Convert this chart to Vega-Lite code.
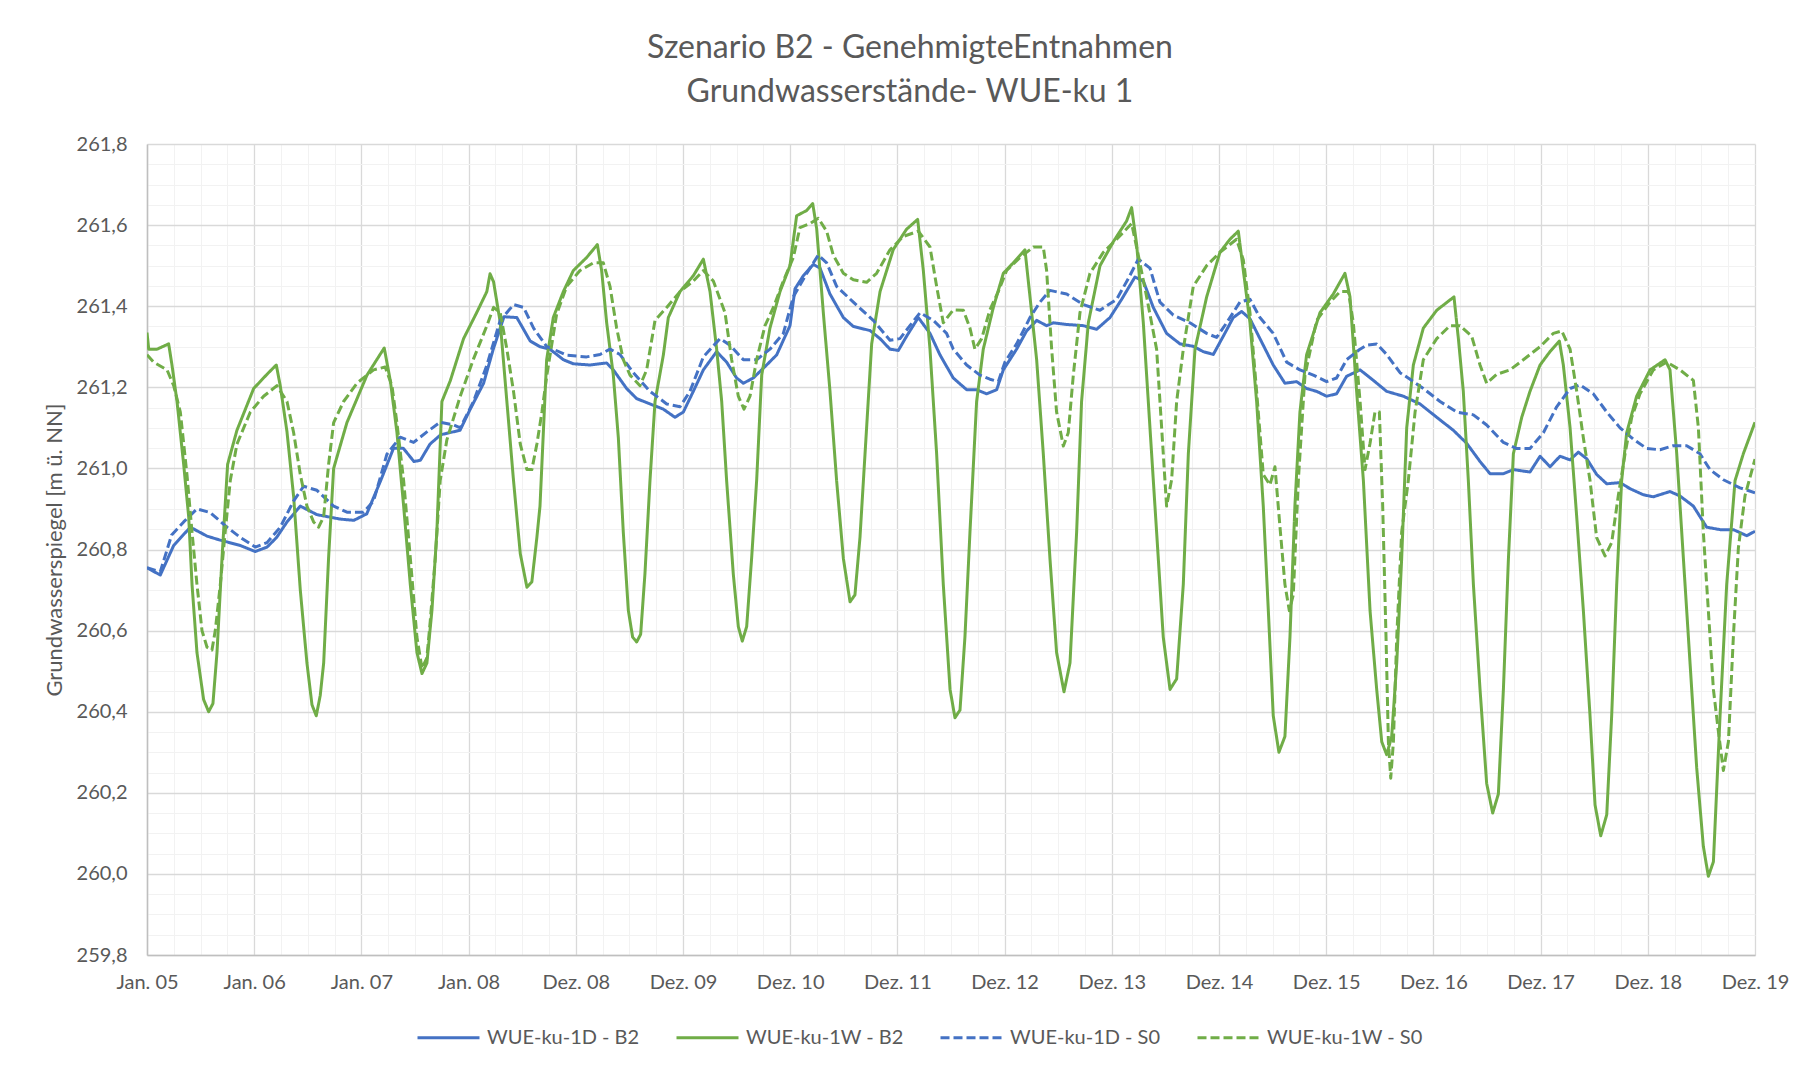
{
"$schema": "https://vega.github.io/schema/vega-lite/v6.json",
"width": 1608, "height": 811,
"autosize": {"type": "none"},
"padding": {"left": 147, "top": 144, "right": 49, "bottom": 114},
"background": "white",
"title": {"text": ["Szenario B2 - GenehmigteEntnahmen", "Grundwasserstände- WUE-ku 1"], "anchor": "middle", "frame": "group", "dx": -41, "offset": 25, "font": "Lato", "fontSize": 32, "fontWeight": "normal", "color": "#595959", "lineHeight": 44},
"data": {"values": [
{"r":"WUE-ku-1D - B2","t":0,"w":260.755},{"r":"WUE-ku-1D - B2","t":0.124,"w":260.737},{"r":"WUE-ku-1D - B2","t":0.249,"w":260.81},{"r":"WUE-ku-1D - B2","t":0.404,"w":260.855},{"r":"WUE-ku-1D - B2","t":0.56,"w":260.833},{"r":"WUE-ku-1D - B2","t":0.684,"w":260.823},{"r":"WUE-ku-1D - B2","t":0.87,"w":260.81},{"r":"WUE-ku-1D - B2","t":1.01,"w":260.795},{"r":"WUE-ku-1D - B2","t":1.12,"w":260.806},{"r":"WUE-ku-1D - B2","t":1.21,"w":260.83},{"r":"WUE-ku-1D - B2","t":1.306,"w":260.868},{"r":"WUE-ku-1D - B2","t":1.43,"w":260.907},{"r":"WUE-ku-1D - B2","t":1.585,"w":260.886},{"r":"WUE-ku-1D - B2","t":1.8,"w":260.875},{"r":"WUE-ku-1D - B2","t":1.93,"w":260.872},{"r":"WUE-ku-1D - B2","t":2.05,"w":260.888},{"r":"WUE-ku-1D - B2","t":2.18,"w":260.97},{"r":"WUE-ku-1D - B2","t":2.3,"w":261.05},{"r":"WUE-ku-1D - B2","t":2.39,"w":261.05},{"r":"WUE-ku-1D - B2","t":2.49,"w":261.017},{"r":"WUE-ku-1D - B2","t":2.55,"w":261.02},{"r":"WUE-ku-1D - B2","t":2.64,"w":261.06},{"r":"WUE-ku-1D - B2","t":2.74,"w":261.083},{"r":"WUE-ku-1D - B2","t":2.92,"w":261.094},{"r":"WUE-ku-1D - B2","t":3.015,"w":261.146},{"r":"WUE-ku-1D - B2","t":3.14,"w":261.21},{"r":"WUE-ku-1D - B2","t":3.23,"w":261.294},{"r":"WUE-ku-1D - B2","t":3.33,"w":261.374},{"r":"WUE-ku-1D - B2","t":3.45,"w":261.372},{"r":"WUE-ku-1D - B2","t":3.575,"w":261.314},{"r":"WUE-ku-1D - B2","t":3.666,"w":261.3},{"r":"WUE-ku-1D - B2","t":3.759,"w":261.294},{"r":"WUE-ku-1D - B2","t":3.884,"w":261.268},{"r":"WUE-ku-1D - B2","t":3.977,"w":261.258},{"r":"WUE-ku-1D - B2","t":4.132,"w":261.255},{"r":"WUE-ku-1D - B2","t":4.288,"w":261.26},{"r":"WUE-ku-1D - B2","t":4.35,"w":261.243},{"r":"WUE-ku-1D - B2","t":4.474,"w":261.197},{"r":"WUE-ku-1D - B2","t":4.568,"w":261.172},{"r":"WUE-ku-1D - B2","t":4.692,"w":261.159},{"r":"WUE-ku-1D - B2","t":4.817,"w":261.146},{"r":"WUE-ku-1D - B2","t":4.925,"w":261.126},{"r":"WUE-ku-1D - B2","t":5.003,"w":261.139},{"r":"WUE-ku-1D - B2","t":5.096,"w":261.19},{"r":"WUE-ku-1D - B2","t":5.19,"w":261.243},{"r":"WUE-ku-1D - B2","t":5.314,"w":261.288},{"r":"WUE-ku-1D - B2","t":5.407,"w":261.262},{"r":"WUE-ku-1D - B2","t":5.5,"w":261.223},{"r":"WUE-ku-1D - B2","t":5.563,"w":261.21},{"r":"WUE-ku-1D - B2","t":5.656,"w":261.223},{"r":"WUE-ku-1D - B2","t":5.78,"w":261.255},{"r":"WUE-ku-1D - B2","t":5.874,"w":261.28},{"r":"WUE-ku-1D - B2","t":5.998,"w":261.352},{"r":"WUE-ku-1D - B2","t":6.045,"w":261.443},{"r":"WUE-ku-1D - B2","t":6.122,"w":261.475},{"r":"WUE-ku-1D - B2","t":6.216,"w":261.503},{"r":"WUE-ku-1D - B2","t":6.278,"w":261.494},{"r":"WUE-ku-1D - B2","t":6.371,"w":261.43},{"r":"WUE-ku-1D - B2","t":6.496,"w":261.372},{"r":"WUE-ku-1D - B2","t":6.589,"w":261.35},{"r":"WUE-ku-1D - B2","t":6.744,"w":261.34},{"r":"WUE-ku-1D - B2","t":6.838,"w":261.32},{"r":"WUE-ku-1D - B2","t":6.931,"w":261.294},{"r":"WUE-ku-1D - B2","t":7.009,"w":261.291},{"r":"WUE-ku-1D - B2","t":7.086,"w":261.326},{"r":"WUE-ku-1D - B2","t":7.195,"w":261.372},{"r":"WUE-ku-1D - B2","t":7.304,"w":261.333},{"r":"WUE-ku-1D - B2","t":7.397,"w":261.28},{"r":"WUE-ku-1D - B2","t":7.521,"w":261.223},{"r":"WUE-ku-1D - B2","t":7.646,"w":261.194},{"r":"WUE-ku-1D - B2","t":7.739,"w":261.194},{"r":"WUE-ku-1D - B2","t":7.832,"w":261.184},{"r":"WUE-ku-1D - B2","t":7.926,"w":261.194},{"r":"WUE-ku-1D - B2","t":7.988,"w":261.243},{"r":"WUE-ku-1D - B2","t":8.112,"w":261.294},{"r":"WUE-ku-1D - B2","t":8.205,"w":261.339},{"r":"WUE-ku-1D - B2","t":8.299,"w":261.365},{"r":"WUE-ku-1D - B2","t":8.392,"w":261.352},{"r":"WUE-ku-1D - B2","t":8.454,"w":261.359},{"r":"WUE-ku-1D - B2","t":8.579,"w":261.355},{"r":"WUE-ku-1D - B2","t":8.734,"w":261.352},{"r":"WUE-ku-1D - B2","t":8.858,"w":261.343},{"r":"WUE-ku-1D - B2","t":8.983,"w":261.372},{"r":"WUE-ku-1D - B2","t":9.092,"w":261.417},{"r":"WUE-ku-1D - B2","t":9.216,"w":261.472},{"r":"WUE-ku-1D - B2","t":9.294,"w":261.462},{"r":"WUE-ku-1D - B2","t":9.387,"w":261.397},{"r":"WUE-ku-1D - B2","t":9.511,"w":261.333},{"r":"WUE-ku-1D - B2","t":9.636,"w":261.307},{"r":"WUE-ku-1D - B2","t":9.76,"w":261.301},{"r":"WUE-ku-1D - B2","t":9.853,"w":261.288},{"r":"WUE-ku-1D - B2","t":9.947,"w":261.281},{"r":"WUE-ku-1D - B2","t":10.04,"w":261.326},{"r":"WUE-ku-1D - B2","t":10.133,"w":261.372},{"r":"WUE-ku-1D - B2","t":10.211,"w":261.387},{"r":"WUE-ku-1D - B2","t":10.289,"w":261.369},{"r":"WUE-ku-1D - B2","t":10.382,"w":261.32},{"r":"WUE-ku-1D - B2","t":10.506,"w":261.255},{"r":"WUE-ku-1D - B2","t":10.615,"w":261.21},{"r":"WUE-ku-1D - B2","t":10.724,"w":261.214},{"r":"WUE-ku-1D - B2","t":10.817,"w":261.197},{"r":"WUE-ku-1D - B2","t":10.911,"w":261.19},{"r":"WUE-ku-1D - B2","t":11.004,"w":261.178},{"r":"WUE-ku-1D - B2","t":11.097,"w":261.184},{"r":"WUE-ku-1D - B2","t":11.19,"w":261.227},{"r":"WUE-ku-1D - B2","t":11.316,"w":261.243},{"r":"WUE-ku-1D - B2","t":11.44,"w":261.217},{"r":"WUE-ku-1D - B2","t":11.564,"w":261.19},{"r":"WUE-ku-1D - B2","t":11.72,"w":261.178},{"r":"WUE-ku-1D - B2","t":11.875,"w":261.159},{"r":"WUE-ku-1D - B2","t":12.031,"w":261.126},{"r":"WUE-ku-1D - B2","t":12.186,"w":261.094},{"r":"WUE-ku-1D - B2","t":12.31,"w":261.062},{"r":"WUE-ku-1D - B2","t":12.435,"w":261.017},{"r":"WUE-ku-1D - B2","t":12.528,"w":260.987},{"r":"WUE-ku-1D - B2","t":12.653,"w":260.987},{"r":"WUE-ku-1D - B2","t":12.746,"w":260.997},{"r":"WUE-ku-1D - B2","t":12.901,"w":260.991},{"r":"WUE-ku-1D - B2","t":12.995,"w":261.03},{"r":"WUE-ku-1D - B2","t":13.088,"w":261.004},{"r":"WUE-ku-1D - B2","t":13.181,"w":261.03},{"r":"WUE-ku-1D - B2","t":13.275,"w":261.021},{"r":"WUE-ku-1D - B2","t":13.352,"w":261.04},{"r":"WUE-ku-1D - B2","t":13.43,"w":261.024},{"r":"WUE-ku-1D - B2","t":13.523,"w":260.985},{"r":"WUE-ku-1D - B2","t":13.617,"w":260.962},{"r":"WUE-ku-1D - B2","t":13.741,"w":260.965},{"r":"WUE-ku-1D - B2","t":13.834,"w":260.95},{"r":"WUE-ku-1D - B2","t":13.958,"w":260.935},{"r":"WUE-ku-1D - B2","t":14.052,"w":260.93},{"r":"WUE-ku-1D - B2","t":14.207,"w":260.943},{"r":"WUE-ku-1D - B2","t":14.3,"w":260.932},{"r":"WUE-ku-1D - B2","t":14.425,"w":260.907},{"r":"WUE-ku-1D - B2","t":14.549,"w":260.855},{"r":"WUE-ku-1D - B2","t":14.674,"w":260.849},{"r":"WUE-ku-1D - B2","t":14.798,"w":260.849},{"r":"WUE-ku-1D - B2","t":14.923,"w":260.834},{"r":"WUE-ku-1D - B2","t":15,"w":260.845},
{"r":"WUE-ku-1W - B2","t":0,"w":261.335},{"r":"WUE-ku-1W - B2","t":0.016,"w":261.294},{"r":"WUE-ku-1W - B2","t":0.093,"w":261.294},{"r":"WUE-ku-1W - B2","t":0.202,"w":261.307},{"r":"WUE-ku-1W - B2","t":0.233,"w":261.255},{"r":"WUE-ku-1W - B2","t":0.28,"w":261.165},{"r":"WUE-ku-1W - B2","t":0.342,"w":261.01},{"r":"WUE-ku-1W - B2","t":0.389,"w":260.88},{"r":"WUE-ku-1W - B2","t":0.42,"w":260.714},{"r":"WUE-ku-1W - B2","t":0.466,"w":260.546},{"r":"WUE-ku-1W - B2","t":0.528,"w":260.43},{"r":"WUE-ku-1W - B2","t":0.575,"w":260.4},{"r":"WUE-ku-1W - B2","t":0.615,"w":260.42},{"r":"WUE-ku-1W - B2","t":0.653,"w":260.546},{"r":"WUE-ku-1W - B2","t":0.7,"w":260.78},{"r":"WUE-ku-1W - B2","t":0.752,"w":261.01},{"r":"WUE-ku-1W - B2","t":0.839,"w":261.094},{"r":"WUE-ku-1W - B2","t":0.995,"w":261.197},{"r":"WUE-ku-1W - B2","t":1.119,"w":261.232},{"r":"WUE-ku-1W - B2","t":1.206,"w":261.255},{"r":"WUE-ku-1W - B2","t":1.243,"w":261.204},{"r":"WUE-ku-1W - B2","t":1.306,"w":261.09},{"r":"WUE-ku-1W - B2","t":1.368,"w":260.93},{"r":"WUE-ku-1W - B2","t":1.43,"w":260.7},{"r":"WUE-ku-1W - B2","t":1.492,"w":260.52},{"r":"WUE-ku-1W - B2","t":1.539,"w":260.417},{"r":"WUE-ku-1W - B2","t":1.579,"w":260.39},{"r":"WUE-ku-1W - B2","t":1.616,"w":260.44},{"r":"WUE-ku-1W - B2","t":1.648,"w":260.52},{"r":"WUE-ku-1W - B2","t":1.694,"w":260.78},{"r":"WUE-ku-1W - B2","t":1.741,"w":261.0},{"r":"WUE-ku-1W - B2","t":1.865,"w":261.113},{"r":"WUE-ku-1W - B2","t":2.052,"w":261.23},{"r":"WUE-ku-1W - B2","t":2.213,"w":261.297},{"r":"WUE-ku-1W - B2","t":2.27,"w":261.216},{"r":"WUE-ku-1W - B2","t":2.331,"w":261.09},{"r":"WUE-ku-1W - B2","t":2.394,"w":260.907},{"r":"WUE-ku-1W - B2","t":2.456,"w":260.714},{"r":"WUE-ku-1W - B2","t":2.518,"w":260.546},{"r":"WUE-ku-1W - B2","t":2.565,"w":260.494},{"r":"WUE-ku-1W - B2","t":2.611,"w":260.52},{"r":"WUE-ku-1W - B2","t":2.658,"w":260.65},{"r":"WUE-ku-1W - B2","t":2.704,"w":260.845},{"r":"WUE-ku-1W - B2","t":2.751,"w":261.165},{"r":"WUE-ku-1W - B2","t":2.829,"w":261.216},{"r":"WUE-ku-1W - B2","t":2.953,"w":261.32},{"r":"WUE-ku-1W - B2","t":3.077,"w":261.385},{"r":"WUE-ku-1W - B2","t":3.17,"w":261.436},{"r":"WUE-ku-1W - B2","t":3.2,"w":261.48},{"r":"WUE-ku-1W - B2","t":3.233,"w":261.46},{"r":"WUE-ku-1W - B2","t":3.295,"w":261.36},{"r":"WUE-ku-1W - B2","t":3.357,"w":261.165},{"r":"WUE-ku-1W - B2","t":3.419,"w":260.97},{"r":"WUE-ku-1W - B2","t":3.482,"w":260.79},{"r":"WUE-ku-1W - B2","t":3.544,"w":260.707},{"r":"WUE-ku-1W - B2","t":3.59,"w":260.72},{"r":"WUE-ku-1W - B2","t":3.637,"w":260.83},{"r":"WUE-ku-1W - B2","t":3.666,"w":260.907},{"r":"WUE-ku-1W - B2","t":3.728,"w":261.268},{"r":"WUE-ku-1W - B2","t":3.79,"w":261.372},{"r":"WUE-ku-1W - B2","t":3.884,"w":261.436},{"r":"WUE-ku-1W - B2","t":3.977,"w":261.488},{"r":"WUE-ku-1W - B2","t":4.101,"w":261.52},{"r":"WUE-ku-1W - B2","t":4.201,"w":261.552},{"r":"WUE-ku-1W - B2","t":4.241,"w":261.488},{"r":"WUE-ku-1W - B2","t":4.288,"w":261.359},{"r":"WUE-ku-1W - B2","t":4.35,"w":261.23},{"r":"WUE-ku-1W - B2","t":4.397,"w":261.075},{"r":"WUE-ku-1W - B2","t":4.443,"w":260.843},{"r":"WUE-ku-1W - B2","t":4.49,"w":260.65},{"r":"WUE-ku-1W - B2","t":4.53,"w":260.584},{"r":"WUE-ku-1W - B2","t":4.568,"w":260.572},{"r":"WUE-ku-1W - B2","t":4.605,"w":260.591},{"r":"WUE-ku-1W - B2","t":4.645,"w":260.74},{"r":"WUE-ku-1W - B2","t":4.692,"w":260.97},{"r":"WUE-ku-1W - B2","t":4.739,"w":261.165},{"r":"WUE-ku-1W - B2","t":4.817,"w":261.28},{"r":"WUE-ku-1W - B2","t":4.863,"w":261.372},{"r":"WUE-ku-1W - B2","t":4.972,"w":261.436},{"r":"WUE-ku-1W - B2","t":5.096,"w":261.475},{"r":"WUE-ku-1W - B2","t":5.19,"w":261.516},{"r":"WUE-ku-1W - B2","t":5.252,"w":261.436},{"r":"WUE-ku-1W - B2","t":5.314,"w":261.294},{"r":"WUE-ku-1W - B2","t":5.361,"w":261.165},{"r":"WUE-ku-1W - B2","t":5.407,"w":260.97},{"r":"WUE-ku-1W - B2","t":5.469,"w":260.74},{"r":"WUE-ku-1W - B2","t":5.516,"w":260.61},{"r":"WUE-ku-1W - B2","t":5.553,"w":260.574},{"r":"WUE-ku-1W - B2","t":5.594,"w":260.61},{"r":"WUE-ku-1W - B2","t":5.64,"w":260.778},{"r":"WUE-ku-1W - B2","t":5.687,"w":260.97},{"r":"WUE-ku-1W - B2","t":5.734,"w":261.23},{"r":"WUE-ku-1W - B2","t":5.811,"w":261.346},{"r":"WUE-ku-1W - B2","t":5.905,"w":261.436},{"r":"WUE-ku-1W - B2","t":5.998,"w":261.5},{"r":"WUE-ku-1W - B2","t":6.06,"w":261.623},{"r":"WUE-ku-1W - B2","t":6.154,"w":261.636},{"r":"WUE-ku-1W - B2","t":6.21,"w":261.653},{"r":"WUE-ku-1W - B2","t":6.247,"w":261.591},{"r":"WUE-ku-1W - B2","t":6.309,"w":261.384},{"r":"WUE-ku-1W - B2","t":6.371,"w":261.191},{"r":"WUE-ku-1W - B2","t":6.433,"w":260.97},{"r":"WUE-ku-1W - B2","t":6.496,"w":260.778},{"r":"WUE-ku-1W - B2","t":6.558,"w":260.671},{"r":"WUE-ku-1W - B2","t":6.604,"w":260.688},{"r":"WUE-ku-1W - B2","t":6.651,"w":260.83},{"r":"WUE-ku-1W - B2","t":6.698,"w":261.036},{"r":"WUE-ku-1W - B2","t":6.76,"w":261.307},{"r":"WUE-ku-1W - B2","t":6.838,"w":261.436},{"r":"WUE-ku-1W - B2","t":6.962,"w":261.54},{"r":"WUE-ku-1W - B2","t":7.086,"w":261.59},{"r":"WUE-ku-1W - B2","t":7.189,"w":261.614},{"r":"WUE-ku-1W - B2","t":7.242,"w":261.488},{"r":"WUE-ku-1W - B2","t":7.304,"w":261.294},{"r":"WUE-ku-1W - B2","t":7.366,"w":261.036},{"r":"WUE-ku-1W - B2","t":7.428,"w":260.714},{"r":"WUE-ku-1W - B2","t":7.491,"w":260.455},{"r":"WUE-ku-1W - B2","t":7.537,"w":260.385},{"r":"WUE-ku-1W - B2","t":7.584,"w":260.404},{"r":"WUE-ku-1W - B2","t":7.63,"w":260.584},{"r":"WUE-ku-1W - B2","t":7.677,"w":260.843},{"r":"WUE-ku-1W - B2","t":7.739,"w":261.165},{"r":"WUE-ku-1W - B2","t":7.801,"w":261.294},{"r":"WUE-ku-1W - B2","t":7.895,"w":261.397},{"r":"WUE-ku-1W - B2","t":7.988,"w":261.481},{"r":"WUE-ku-1W - B2","t":8.081,"w":261.507},{"r":"WUE-ku-1W - B2","t":8.19,"w":261.539},{"r":"WUE-ku-1W - B2","t":8.237,"w":261.423},{"r":"WUE-ku-1W - B2","t":8.299,"w":261.268},{"r":"WUE-ku-1W - B2","t":8.361,"w":261.036},{"r":"WUE-ku-1W - B2","t":8.423,"w":260.778},{"r":"WUE-ku-1W - B2","t":8.485,"w":260.546},{"r":"WUE-ku-1W - B2","t":8.554,"w":260.449},{"r":"WUE-ku-1W - B2","t":8.61,"w":260.52},{"r":"WUE-ku-1W - B2","t":8.672,"w":260.843},{"r":"WUE-ku-1W - B2","t":8.718,"w":261.165},{"r":"WUE-ku-1W - B2","t":8.781,"w":261.359},{"r":"WUE-ku-1W - B2","t":8.89,"w":261.5},{"r":"WUE-ku-1W - B2","t":9.014,"w":261.559},{"r":"WUE-ku-1W - B2","t":9.138,"w":261.61},{"r":"WUE-ku-1W - B2","t":9.185,"w":261.643},{"r":"WUE-ku-1W - B2","t":9.232,"w":261.552},{"r":"WUE-ku-1W - B2","t":9.294,"w":261.359},{"r":"WUE-ku-1W - B2","t":9.356,"w":261.1},{"r":"WUE-ku-1W - B2","t":9.418,"w":260.843},{"r":"WUE-ku-1W - B2","t":9.48,"w":260.584},{"r":"WUE-ku-1W - B2","t":9.543,"w":260.455},{"r":"WUE-ku-1W - B2","t":9.605,"w":260.481},{"r":"WUE-ku-1W - B2","t":9.667,"w":260.714},{"r":"WUE-ku-1W - B2","t":9.714,"w":261.036},{"r":"WUE-ku-1W - B2","t":9.776,"w":261.294},{"r":"WUE-ku-1W - B2","t":9.885,"w":261.423},{"r":"WUE-ku-1W - B2","t":10.009,"w":261.533},{"r":"WUE-ku-1W - B2","t":10.102,"w":261.565},{"r":"WUE-ku-1W - B2","t":10.18,"w":261.585},{"r":"WUE-ku-1W - B2","t":10.227,"w":261.488},{"r":"WUE-ku-1W - B2","t":10.289,"w":261.359},{"r":"WUE-ku-1W - B2","t":10.351,"w":261.165},{"r":"WUE-ku-1W - B2","t":10.413,"w":260.907},{"r":"WUE-ku-1W - B2","t":10.46,"w":260.65},{"r":"WUE-ku-1W - B2","t":10.506,"w":260.39},{"r":"WUE-ku-1W - B2","t":10.559,"w":260.3},{"r":"WUE-ku-1W - B2","t":10.615,"w":260.339},{"r":"WUE-ku-1W - B2","t":10.662,"w":260.584},{"r":"WUE-ku-1W - B2","t":10.708,"w":260.907},{"r":"WUE-ku-1W - B2","t":10.755,"w":261.139},{"r":"WUE-ku-1W - B2","t":10.817,"w":261.28},{"r":"WUE-ku-1W - B2","t":10.942,"w":261.384},{"r":"WUE-ku-1W - B2","t":11.066,"w":261.43},{"r":"WUE-ku-1W - B2","t":11.175,"w":261.481},{"r":"WUE-ku-1W - B2","t":11.222,"w":261.423},{"r":"WUE-ku-1W - B2","t":11.284,"w":261.19},{"r":"WUE-ku-1W - B2","t":11.347,"w":260.97},{"r":"WUE-ku-1W - B2","t":11.409,"w":260.649},{"r":"WUE-ku-1W - B2","t":11.471,"w":260.455},{"r":"WUE-ku-1W - B2","t":11.518,"w":260.326},{"r":"WUE-ku-1W - B2","t":11.564,"w":260.294},{"r":"WUE-ku-1W - B2","t":11.611,"w":260.339},{"r":"WUE-ku-1W - B2","t":11.658,"w":260.52},{"r":"WUE-ku-1W - B2","t":11.704,"w":260.778},{"r":"WUE-ku-1W - B2","t":11.751,"w":261.1},{"r":"WUE-ku-1W - B2","t":11.813,"w":261.255},{"r":"WUE-ku-1W - B2","t":11.906,"w":261.346},{"r":"WUE-ku-1W - B2","t":12.031,"w":261.39},{"r":"WUE-ku-1W - B2","t":12.192,"w":261.423},{"r":"WUE-ku-1W - B2","t":12.233,"w":261.32},{"r":"WUE-ku-1W - B2","t":12.279,"w":261.19},{"r":"WUE-ku-1W - B2","t":12.326,"w":260.97},{"r":"WUE-ku-1W - B2","t":12.373,"w":260.714},{"r":"WUE-ku-1W - B2","t":12.435,"w":260.455},{"r":"WUE-ku-1W - B2","t":12.497,"w":260.223},{"r":"WUE-ku-1W - B2","t":12.553,"w":260.15},{"r":"WUE-ku-1W - B2","t":12.606,"w":260.197},{"r":"WUE-ku-1W - B2","t":12.653,"w":260.455},{"r":"WUE-ku-1W - B2","t":12.7,"w":260.778},{"r":"WUE-ku-1W - B2","t":12.746,"w":261.036},{"r":"WUE-ku-1W - B2","t":12.824,"w":261.126},{"r":"WUE-ku-1W - B2","t":12.901,"w":261.19},{"r":"WUE-ku-1W - B2","t":12.995,"w":261.255},{"r":"WUE-ku-1W - B2","t":13.088,"w":261.288},{"r":"WUE-ku-1W - B2","t":13.175,"w":261.314},{"r":"WUE-ku-1W - B2","t":13.212,"w":261.255},{"r":"WUE-ku-1W - B2","t":13.275,"w":261.1},{"r":"WUE-ku-1W - B2","t":13.337,"w":260.88},{"r":"WUE-ku-1W - B2","t":13.399,"w":260.649},{"r":"WUE-ku-1W - B2","t":13.461,"w":260.39},{"r":"WUE-ku-1W - B2","t":13.508,"w":260.17},{"r":"WUE-ku-1W - B2","t":13.561,"w":260.094},{"r":"WUE-ku-1W - B2","t":13.617,"w":260.146},{"r":"WUE-ku-1W - B2","t":13.663,"w":260.39},{"r":"WUE-ku-1W - B2","t":13.71,"w":260.714},{"r":"WUE-ku-1W - B2","t":13.756,"w":260.97},{"r":"WUE-ku-1W - B2","t":13.803,"w":261.088},{"r":"WUE-ku-1W - B2","t":13.896,"w":261.178},{"r":"WUE-ku-1W - B2","t":14.021,"w":261.243},{"r":"WUE-ku-1W - B2","t":14.161,"w":261.268},{"r":"WUE-ku-1W - B2","t":14.207,"w":261.243},{"r":"WUE-ku-1W - B2","t":14.27,"w":261.036},{"r":"WUE-ku-1W - B2","t":14.332,"w":260.778},{"r":"WUE-ku-1W - B2","t":14.394,"w":260.52},{"r":"WUE-ku-1W - B2","t":14.456,"w":260.262},{"r":"WUE-ku-1W - B2","t":14.518,"w":260.068},{"r":"WUE-ku-1W - B2","t":14.565,"w":259.994},{"r":"WUE-ku-1W - B2","t":14.612,"w":260.03},{"r":"WUE-ku-1W - B2","t":14.674,"w":260.39},{"r":"WUE-ku-1W - B2","t":14.736,"w":260.714},{"r":"WUE-ku-1W - B2","t":14.814,"w":260.97},{"r":"WUE-ku-1W - B2","t":14.891,"w":261.036},{"r":"WUE-ku-1W - B2","t":15,"w":261.114},
{"r":"WUE-ku-1D - S0","t":0,"w":260.755},{"r":"WUE-ku-1D - S0","t":0.124,"w":260.745},{"r":"WUE-ku-1D - S0","t":0.23,"w":260.836},{"r":"WUE-ku-1D - S0","t":0.342,"w":260.868},{"r":"WUE-ku-1D - S0","t":0.466,"w":260.9},{"r":"WUE-ku-1D - S0","t":0.59,"w":260.891},{"r":"WUE-ku-1D - S0","t":0.746,"w":260.855},{"r":"WUE-ku-1D - S0","t":0.87,"w":260.83},{"r":"WUE-ku-1D - S0","t":1.01,"w":260.806},{"r":"WUE-ku-1D - S0","t":1.119,"w":260.817},{"r":"WUE-ku-1D - S0","t":1.243,"w":260.855},{"r":"WUE-ku-1D - S0","t":1.368,"w":260.92},{"r":"WUE-ku-1D - S0","t":1.461,"w":260.956},{"r":"WUE-ku-1D - S0","t":1.585,"w":260.946},{"r":"WUE-ku-1D - S0","t":1.741,"w":260.907},{"r":"WUE-ku-1D - S0","t":1.865,"w":260.892},{"r":"WUE-ku-1D - S0","t":2.02,"w":260.892},{"r":"WUE-ku-1D - S0","t":2.114,"w":260.92},{"r":"WUE-ku-1D - S0","t":2.238,"w":261.035},{"r":"WUE-ku-1D - S0","t":2.362,"w":261.077},{"r":"WUE-ku-1D - S0","t":2.487,"w":261.064},{"r":"WUE-ku-1D - S0","t":2.611,"w":261.09},{"r":"WUE-ku-1D - S0","t":2.735,"w":261.114},{"r":"WUE-ku-1D - S0","t":2.86,"w":261.107},{"r":"WUE-ku-1D - S0","t":2.922,"w":261.1},{"r":"WUE-ku-1D - S0","t":3.046,"w":261.165},{"r":"WUE-ku-1D - S0","t":3.171,"w":261.255},{"r":"WUE-ku-1D - S0","t":3.295,"w":261.365},{"r":"WUE-ku-1D - S0","t":3.42,"w":261.404},{"r":"WUE-ku-1D - S0","t":3.513,"w":261.397},{"r":"WUE-ku-1D - S0","t":3.606,"w":261.346},{"r":"WUE-ku-1D - S0","t":3.73,"w":261.3},{"r":"WUE-ku-1D - S0","t":3.79,"w":261.294},{"r":"WUE-ku-1D - S0","t":3.915,"w":261.279},{"r":"WUE-ku-1D - S0","t":4.101,"w":261.275},{"r":"WUE-ku-1D - S0","t":4.226,"w":261.281},{"r":"WUE-ku-1D - S0","t":4.319,"w":261.294},{"r":"WUE-ku-1D - S0","t":4.412,"w":261.281},{"r":"WUE-ku-1D - S0","t":4.537,"w":261.236},{"r":"WUE-ku-1D - S0","t":4.692,"w":261.19},{"r":"WUE-ku-1D - S0","t":4.848,"w":261.159},{"r":"WUE-ku-1D - S0","t":4.972,"w":261.152},{"r":"WUE-ku-1D - S0","t":5.065,"w":261.19},{"r":"WUE-ku-1D - S0","t":5.19,"w":261.275},{"r":"WUE-ku-1D - S0","t":5.345,"w":261.32},{"r":"WUE-ku-1D - S0","t":5.438,"w":261.304},{"r":"WUE-ku-1D - S0","t":5.563,"w":261.268},{"r":"WUE-ku-1D - S0","t":5.687,"w":261.268},{"r":"WUE-ku-1D - S0","t":5.811,"w":261.294},{"r":"WUE-ku-1D - S0","t":5.936,"w":261.333},{"r":"WUE-ku-1D - S0","t":6.029,"w":261.423},{"r":"WUE-ku-1D - S0","t":6.154,"w":261.481},{"r":"WUE-ku-1D - S0","t":6.262,"w":261.526},{"r":"WUE-ku-1D - S0","t":6.34,"w":261.507},{"r":"WUE-ku-1D - S0","t":6.433,"w":261.449},{"r":"WUE-ku-1D - S0","t":6.589,"w":261.41},{"r":"WUE-ku-1D - S0","t":6.775,"w":261.365},{"r":"WUE-ku-1D - S0","t":6.931,"w":261.316},{"r":"WUE-ku-1D - S0","t":7.024,"w":261.32},{"r":"WUE-ku-1D - S0","t":7.117,"w":261.352},{"r":"WUE-ku-1D - S0","t":7.211,"w":261.384},{"r":"WUE-ku-1D - S0","t":7.335,"w":261.365},{"r":"WUE-ku-1D - S0","t":7.459,"w":261.333},{"r":"WUE-ku-1D - S0","t":7.521,"w":261.294},{"r":"WUE-ku-1D - S0","t":7.646,"w":261.255},{"r":"WUE-ku-1D - S0","t":7.77,"w":261.23},{"r":"WUE-ku-1D - S0","t":7.863,"w":261.22},{"r":"WUE-ku-1D - S0","t":7.941,"w":261.214},{"r":"WUE-ku-1D - S0","t":8.003,"w":261.262},{"r":"WUE-ku-1D - S0","t":8.112,"w":261.307},{"r":"WUE-ku-1D - S0","t":8.237,"w":261.372},{"r":"WUE-ku-1D - S0","t":8.33,"w":261.41},{"r":"WUE-ku-1D - S0","t":8.423,"w":261.439},{"r":"WUE-ku-1D - S0","t":8.579,"w":261.43},{"r":"WUE-ku-1D - S0","t":8.734,"w":261.404},{"r":"WUE-ku-1D - S0","t":8.89,"w":261.39},{"r":"WUE-ku-1D - S0","t":9.045,"w":261.417},{"r":"WUE-ku-1D - S0","t":9.154,"w":261.468},{"r":"WUE-ku-1D - S0","t":9.247,"w":261.516},{"r":"WUE-ku-1D - S0","t":9.356,"w":261.494},{"r":"WUE-ku-1D - S0","t":9.449,"w":261.41},{"r":"WUE-ku-1D - S0","t":9.574,"w":261.378},{"r":"WUE-ku-1D - S0","t":9.729,"w":261.359},{"r":"WUE-ku-1D - S0","t":9.885,"w":261.333},{"r":"WUE-ku-1D - S0","t":9.978,"w":261.323},{"r":"WUE-ku-1D - S0","t":10.071,"w":261.359},{"r":"WUE-ku-1D - S0","t":10.195,"w":261.41},{"r":"WUE-ku-1D - S0","t":10.289,"w":261.417},{"r":"WUE-ku-1D - S0","t":10.382,"w":261.372},{"r":"WUE-ku-1D - S0","t":10.506,"w":261.333},{"r":"WUE-ku-1D - S0","t":10.631,"w":261.262},{"r":"WUE-ku-1D - S0","t":10.755,"w":261.243},{"r":"WUE-ku-1D - S0","t":10.88,"w":261.23},{"r":"WUE-ku-1D - S0","t":11.004,"w":261.214},{"r":"WUE-ku-1D - S0","t":11.097,"w":261.223},{"r":"WUE-ku-1D - S0","t":11.19,"w":261.268},{"r":"WUE-ku-1D - S0","t":11.315,"w":261.294},{"r":"WUE-ku-1D - S0","t":11.378,"w":261.304},{"r":"WUE-ku-1D - S0","t":11.471,"w":261.307},{"r":"WUE-ku-1D - S0","t":11.564,"w":261.281},{"r":"WUE-ku-1D - S0","t":11.689,"w":261.236},{"r":"WUE-ku-1D - S0","t":11.782,"w":261.22},{"r":"WUE-ku-1D - S0","t":11.906,"w":261.197},{"r":"WUE-ku-1D - S0","t":12.062,"w":261.165},{"r":"WUE-ku-1D - S0","t":12.217,"w":261.139},{"r":"WUE-ku-1D - S0","t":12.373,"w":261.132},{"r":"WUE-ku-1D - S0","t":12.497,"w":261.107},{"r":"WUE-ku-1D - S0","t":12.653,"w":261.064},{"r":"WUE-ku-1D - S0","t":12.777,"w":261.049},{"r":"WUE-ku-1D - S0","t":12.901,"w":261.049},{"r":"WUE-ku-1D - S0","t":13.026,"w":261.088},{"r":"WUE-ku-1D - S0","t":13.15,"w":261.152},{"r":"WUE-ku-1D - S0","t":13.275,"w":261.197},{"r":"WUE-ku-1D - S0","t":13.368,"w":261.206},{"r":"WUE-ku-1D - S0","t":13.492,"w":261.184},{"r":"WUE-ku-1D - S0","t":13.617,"w":261.139},{"r":"WUE-ku-1D - S0","t":13.741,"w":261.1},{"r":"WUE-ku-1D - S0","t":13.865,"w":261.072},{"r":"WUE-ku-1D - S0","t":13.99,"w":261.049},{"r":"WUE-ku-1D - S0","t":14.114,"w":261.046},{"r":"WUE-ku-1D - S0","t":14.238,"w":261.056},{"r":"WUE-ku-1D - S0","t":14.363,"w":261.056},{"r":"WUE-ku-1D - S0","t":14.487,"w":261.036},{"r":"WUE-ku-1D - S0","t":14.58,"w":260.997},{"r":"WUE-ku-1D - S0","t":14.705,"w":260.972},{"r":"WUE-ku-1D - S0","t":14.86,"w":260.952},{"r":"WUE-ku-1D - S0","t":15,"w":260.94},
{"r":"WUE-ku-1W - S0","t":0,"w":261.28},{"r":"WUE-ku-1W - S0","t":0.062,"w":261.262},{"r":"WUE-ku-1W - S0","t":0.187,"w":261.243},{"r":"WUE-ku-1W - S0","t":0.249,"w":261.204},{"r":"WUE-ku-1W - S0","t":0.311,"w":261.139},{"r":"WUE-ku-1W - S0","t":0.373,"w":260.984},{"r":"WUE-ku-1W - S0","t":0.42,"w":260.843},{"r":"WUE-ku-1W - S0","t":0.466,"w":260.714},{"r":"WUE-ku-1W - S0","t":0.513,"w":260.6},{"r":"WUE-ku-1W - S0","t":0.56,"w":260.559},{"r":"WUE-ku-1W - S0","t":0.606,"w":260.552},{"r":"WUE-ku-1W - S0","t":0.637,"w":260.6},{"r":"WUE-ku-1W - S0","t":0.684,"w":260.714},{"r":"WUE-ku-1W - S0","t":0.73,"w":260.845},{"r":"WUE-ku-1W - S0","t":0.777,"w":260.97},{"r":"WUE-ku-1W - S0","t":0.839,"w":261.06},{"r":"WUE-ku-1W - S0","t":0.964,"w":261.139},{"r":"WUE-ku-1W - S0","t":1.088,"w":261.178},{"r":"WUE-ku-1W - S0","t":1.212,"w":261.204},{"r":"WUE-ku-1W - S0","t":1.306,"w":261.165},{"r":"WUE-ku-1W - S0","t":1.368,"w":261.088},{"r":"WUE-ku-1W - S0","t":1.43,"w":260.985},{"r":"WUE-ku-1W - S0","t":1.492,"w":260.907},{"r":"WUE-ku-1W - S0","t":1.554,"w":260.868},{"r":"WUE-ku-1W - S0","t":1.601,"w":260.855},{"r":"WUE-ku-1W - S0","t":1.648,"w":260.881},{"r":"WUE-ku-1W - S0","t":1.694,"w":261.01},{"r":"WUE-ku-1W - S0","t":1.741,"w":261.113},{"r":"WUE-ku-1W - S0","t":1.834,"w":261.165},{"r":"WUE-ku-1W - S0","t":1.958,"w":261.21},{"r":"WUE-ku-1W - S0","t":2.114,"w":261.243},{"r":"WUE-ku-1W - S0","t":2.222,"w":261.25},{"r":"WUE-ku-1W - S0","t":2.285,"w":261.204},{"r":"WUE-ku-1W - S0","t":2.331,"w":261.113},{"r":"WUE-ku-1W - S0","t":2.394,"w":260.97},{"r":"WUE-ku-1W - S0","t":2.456,"w":260.78},{"r":"WUE-ku-1W - S0","t":2.518,"w":260.584},{"r":"WUE-ku-1W - S0","t":2.565,"w":260.507},{"r":"WUE-ku-1W - S0","t":2.611,"w":260.533},{"r":"WUE-ku-1W - S0","t":2.642,"w":260.623},{"r":"WUE-ku-1W - S0","t":2.689,"w":260.778},{"r":"WUE-ku-1W - S0","t":2.735,"w":260.97},{"r":"WUE-ku-1W - S0","t":2.797,"w":261.07},{"r":"WUE-ku-1W - S0","t":2.922,"w":261.178},{"r":"WUE-ku-1W - S0","t":3.046,"w":261.27},{"r":"WUE-ku-1W - S0","t":3.171,"w":261.352},{"r":"WUE-ku-1W - S0","t":3.233,"w":261.397},{"r":"WUE-ku-1W - S0","t":3.295,"w":261.384},{"r":"WUE-ku-1W - S0","t":3.357,"w":261.294},{"r":"WUE-ku-1W - S0","t":3.419,"w":261.19},{"r":"WUE-ku-1W - S0","t":3.482,"w":261.06},{"r":"WUE-ku-1W - S0","t":3.544,"w":260.997},{"r":"WUE-ku-1W - S0","t":3.59,"w":260.997},{"r":"WUE-ku-1W - S0","t":3.637,"w":261.06},{"r":"WUE-ku-1W - S0","t":3.684,"w":261.139},{"r":"WUE-ku-1W - S0","t":3.73,"w":261.23},{"r":"WUE-ku-1W - S0","t":3.821,"w":261.38},{"r":"WUE-ku-1W - S0","t":3.915,"w":261.449},{"r":"WUE-ku-1W - S0","t":4.039,"w":261.488},{"r":"WUE-ku-1W - S0","t":4.164,"w":261.507},{"r":"WUE-ku-1W - S0","t":4.257,"w":261.507},{"r":"WUE-ku-1W - S0","t":4.319,"w":261.449},{"r":"WUE-ku-1W - S0","t":4.381,"w":261.346},{"r":"WUE-ku-1W - S0","t":4.443,"w":261.268},{"r":"WUE-ku-1W - S0","t":4.506,"w":261.23},{"r":"WUE-ku-1W - S0","t":4.599,"w":261.204},{"r":"WUE-ku-1W - S0","t":4.661,"w":261.243},{"r":"WUE-ku-1W - S0","t":4.739,"w":261.365},{"r":"WUE-ku-1W - S0","t":4.848,"w":261.397},{"r":"WUE-ku-1W - S0","t":4.972,"w":261.436},{"r":"WUE-ku-1W - S0","t":5.096,"w":261.462},{"r":"WUE-ku-1W - S0","t":5.19,"w":261.488},{"r":"WUE-ku-1W - S0","t":5.283,"w":261.462},{"r":"WUE-ku-1W - S0","t":5.392,"w":261.384},{"r":"WUE-ku-1W - S0","t":5.454,"w":261.268},{"r":"WUE-ku-1W - S0","t":5.516,"w":261.178},{"r":"WUE-ku-1W - S0","t":5.569,"w":261.146},{"r":"WUE-ku-1W - S0","t":5.625,"w":261.178},{"r":"WUE-ku-1W - S0","t":5.687,"w":261.268},{"r":"WUE-ku-1W - S0","t":5.765,"w":261.352},{"r":"WUE-ku-1W - S0","t":5.843,"w":261.397},{"r":"WUE-ku-1W - S0","t":5.936,"w":261.462},{"r":"WUE-ku-1W - S0","t":6.029,"w":261.52},{"r":"WUE-ku-1W - S0","t":6.091,"w":261.594},{"r":"WUE-ku-1W - S0","t":6.185,"w":261.604},{"r":"WUE-ku-1W - S0","t":6.262,"w":261.617},{"r":"WUE-ku-1W - S0","t":6.34,"w":261.585},{"r":"WUE-ku-1W - S0","t":6.402,"w":261.526},{"r":"WUE-ku-1W - S0","t":6.496,"w":261.481},{"r":"WUE-ku-1W - S0","t":6.589,"w":261.465},{"r":"WUE-ku-1W - S0","t":6.713,"w":261.459},{"r":"WUE-ku-1W - S0","t":6.806,"w":261.481},{"r":"WUE-ku-1W - S0","t":6.931,"w":261.539},{"r":"WUE-ku-1W - S0","t":7.055,"w":261.572},{"r":"WUE-ku-1W - S0","t":7.195,"w":261.585},{"r":"WUE-ku-1W - S0","t":7.304,"w":261.546},{"r":"WUE-ku-1W - S0","t":7.366,"w":261.449},{"r":"WUE-ku-1W - S0","t":7.428,"w":261.359},{"r":"WUE-ku-1W - S0","t":7.521,"w":261.391},{"r":"WUE-ku-1W - S0","t":7.615,"w":261.39},{"r":"WUE-ku-1W - S0","t":7.677,"w":261.346},{"r":"WUE-ku-1W - S0","t":7.723,"w":261.294},{"r":"WUE-ku-1W - S0","t":7.786,"w":261.32},{"r":"WUE-ku-1W - S0","t":7.863,"w":261.391},{"r":"WUE-ku-1W - S0","t":7.941,"w":261.436},{"r":"WUE-ku-1W - S0","t":8.019,"w":261.488},{"r":"WUE-ku-1W - S0","t":8.143,"w":261.52},{"r":"WUE-ku-1W - S0","t":8.268,"w":261.546},{"r":"WUE-ku-1W - S0","t":8.361,"w":261.546},{"r":"WUE-ku-1W - S0","t":8.392,"w":261.488},{"r":"WUE-ku-1W - S0","t":8.439,"w":261.294},{"r":"WUE-ku-1W - S0","t":8.485,"w":261.139},{"r":"WUE-ku-1W - S0","t":8.548,"w":261.055},{"r":"WUE-ku-1W - S0","t":8.594,"w":261.088},{"r":"WUE-ku-1W - S0","t":8.641,"w":261.23},{"r":"WUE-ku-1W - S0","t":8.703,"w":261.384},{"r":"WUE-ku-1W - S0","t":8.796,"w":261.481},{"r":"WUE-ku-1W - S0","t":8.921,"w":261.533},{"r":"WUE-ku-1W - S0","t":9.045,"w":261.565},{"r":"WUE-ku-1W - S0","t":9.185,"w":261.604},{"r":"WUE-ku-1W - S0","t":9.247,"w":261.526},{"r":"WUE-ku-1W - S0","t":9.325,"w":261.423},{"r":"WUE-ku-1W - S0","t":9.418,"w":261.294},{"r":"WUE-ku-1W - S0","t":9.465,"w":261.1},{"r":"WUE-ku-1W - S0","t":9.511,"w":260.907},{"r":"WUE-ku-1W - S0","t":9.558,"w":260.972},{"r":"WUE-ku-1W - S0","t":9.605,"w":261.165},{"r":"WUE-ku-1W - S0","t":9.667,"w":261.294},{"r":"WUE-ku-1W - S0","t":9.76,"w":261.449},{"r":"WUE-ku-1W - S0","t":9.885,"w":261.5},{"r":"WUE-ku-1W - S0","t":10.009,"w":261.533},{"r":"WUE-ku-1W - S0","t":10.164,"w":261.565},{"r":"WUE-ku-1W - S0","t":10.227,"w":261.514},{"r":"WUE-ku-1W - S0","t":10.289,"w":261.384},{"r":"WUE-ku-1W - S0","t":10.351,"w":261.19},{"r":"WUE-ku-1W - S0","t":10.413,"w":260.985},{"r":"WUE-ku-1W - S0","t":10.475,"w":260.959},{"r":"WUE-ku-1W - S0","t":10.522,"w":261.004},{"r":"WUE-ku-1W - S0","t":10.569,"w":260.855},{"r":"WUE-ku-1W - S0","t":10.615,"w":260.714},{"r":"WUE-ku-1W - S0","t":10.656,"w":260.649},{"r":"WUE-ku-1W - S0","t":10.693,"w":260.688},{"r":"WUE-ku-1W - S0","t":10.74,"w":260.97},{"r":"WUE-ku-1W - S0","t":10.802,"w":261.23},{"r":"WUE-ku-1W - S0","t":10.911,"w":261.365},{"r":"WUE-ku-1W - S0","t":11.035,"w":261.41},{"r":"WUE-ku-1W - S0","t":11.129,"w":261.436},{"r":"WUE-ku-1W - S0","t":11.207,"w":261.436},{"r":"WUE-ku-1W - S0","t":11.253,"w":261.359},{"r":"WUE-ku-1W - S0","t":11.316,"w":261.165},{"r":"WUE-ku-1W - S0","t":11.362,"w":260.997},{"r":"WUE-ku-1W - S0","t":11.409,"w":261.062},{"r":"WUE-ku-1W - S0","t":11.455,"w":261.139},{"r":"WUE-ku-1W - S0","t":11.496,"w":261.139},{"r":"WUE-ku-1W - S0","t":11.527,"w":260.907},{"r":"WUE-ku-1W - S0","t":11.558,"w":260.584},{"r":"WUE-ku-1W - S0","t":11.58,"w":260.326},{"r":"WUE-ku-1W - S0","t":11.602,"w":260.236},{"r":"WUE-ku-1W - S0","t":11.627,"w":260.326},{"r":"WUE-ku-1W - S0","t":11.658,"w":260.584},{"r":"WUE-ku-1W - S0","t":11.704,"w":260.843},{"r":"WUE-ku-1W - S0","t":11.766,"w":260.97},{"r":"WUE-ku-1W - S0","t":11.829,"w":261.139},{"r":"WUE-ku-1W - S0","t":11.906,"w":261.268},{"r":"WUE-ku-1W - S0","t":12.031,"w":261.32},{"r":"WUE-ku-1W - S0","t":12.155,"w":261.352},{"r":"WUE-ku-1W - S0","t":12.248,"w":261.352},{"r":"WUE-ku-1W - S0","t":12.357,"w":261.326},{"r":"WUE-ku-1W - S0","t":12.435,"w":261.255},{"r":"WUE-ku-1W - S0","t":12.497,"w":261.21},{"r":"WUE-ku-1W - S0","t":12.59,"w":261.232},{"r":"WUE-ku-1W - S0","t":12.715,"w":261.243},{"r":"WUE-ku-1W - S0","t":12.839,"w":261.268},{"r":"WUE-ku-1W - S0","t":12.995,"w":261.3},{"r":"WUE-ku-1W - S0","t":13.119,"w":261.333},{"r":"WUE-ku-1W - S0","t":13.197,"w":261.339},{"r":"WUE-ku-1W - S0","t":13.275,"w":261.294},{"r":"WUE-ku-1W - S0","t":13.337,"w":261.19},{"r":"WUE-ku-1W - S0","t":13.399,"w":261.075},{"r":"WUE-ku-1W - S0","t":13.461,"w":260.97},{"r":"WUE-ku-1W - S0","t":13.523,"w":260.829},{"r":"WUE-ku-1W - S0","t":13.601,"w":260.784},{"r":"WUE-ku-1W - S0","t":13.663,"w":260.817},{"r":"WUE-ku-1W - S0","t":13.725,"w":260.933},{"r":"WUE-ku-1W - S0","t":13.788,"w":261.036},{"r":"WUE-ku-1W - S0","t":13.85,"w":261.126},{"r":"WUE-ku-1W - S0","t":13.927,"w":261.184},{"r":"WUE-ku-1W - S0","t":14.052,"w":261.243},{"r":"WUE-ku-1W - S0","t":14.176,"w":261.262},{"r":"WUE-ku-1W - S0","t":14.3,"w":261.243},{"r":"WUE-ku-1W - S0","t":14.425,"w":261.217},{"r":"WUE-ku-1W - S0","t":14.472,"w":261.1},{"r":"WUE-ku-1W - S0","t":14.518,"w":260.843},{"r":"WUE-ku-1W - S0","t":14.565,"w":260.649},{"r":"WUE-ku-1W - S0","t":14.612,"w":260.455},{"r":"WUE-ku-1W - S0","t":14.658,"w":260.352},{"r":"WUE-ku-1W - S0","t":14.705,"w":260.255},{"r":"WUE-ku-1W - S0","t":14.752,"w":260.326},{"r":"WUE-ku-1W - S0","t":14.798,"w":260.584},{"r":"WUE-ku-1W - S0","t":14.845,"w":260.804},{"r":"WUE-ku-1W - S0","t":14.907,"w":260.933},{"r":"WUE-ku-1W - S0","t":15,"w":261.023}
]},
"mark": {"type": "line", "strokeWidth": 3, "strokeJoin": "round", "clip": true},
"encoding": {
"x": {"field": "t", "type": "quantitative", "scale": {"domain": [0, 15], "nice": false, "zero": false},
 "axis": {"title": null, "values": [0,0.25,0.5,0.75,1,1.25,1.5,1.75,2,2.25,2.5,2.75,3,3.25,3.5,3.75,4,4.25,4.5,4.75,5,5.25,5.5,5.75,6,6.25,6.5,6.75,7,7.25,7.5,7.75,8,8.25,8.5,8.75,9,9.25,9.5,9.75,10,10.25,10.5,10.75,11,11.25,11.5,11.75,12,12.25,12.5,12.75,13,13.25,13.5,13.75,14,14.25,14.5,14.75,15],
  "labelExpr": "abs(datum.value - round(datum.value)) < 0.001 ? ['Jan. 05','Jan. 06','Jan. 07','Jan. 08','Dez. 08','Dez. 09','Dez. 10','Dez. 11','Dez. 12','Dez. 13','Dez. 14','Dez. 15','Dez. 16','Dez. 17','Dez. 18','Dez. 19'][round(datum.value)] : ''",
  "grid": true,
  "gridColor": {"condition": {"test": "abs(datum.value - round(datum.value)) < 0.001", "value": "#d9d9d9"}, "value": "#f2f2f2"},
  "gridWidth": {"condition": {"test": "abs(datum.value - round(datum.value)) < 0.001", "value": 1.3}, "value": 1},
  "ticks": false, "tickSize": 0, "domain": true, "domainColor": "#bfbfbf", "domainWidth": 1.5,
  "labelFont": "Lato", "labelFontSize": 20, "labelColor": "#595959", "labelPadding": 17,
  "labelOverlap": false, "labelFlush": false, "labelBound": false}},
"y": {"field": "w", "type": "quantitative", "scale": {"domain": [259.8, 261.8], "nice": false, "zero": false},
 "axis": {"title": "Grundwasserspiegel [m ü. NN]", "values": [259.8,259.85,259.9,259.95,260,260.05,260.1,260.15,260.2,260.25,260.3,260.35,260.4,260.45,260.5,260.55,260.6,260.65,260.7,260.75,260.8,260.85,260.9,260.95,261,261.05,261.1,261.15,261.2,261.25,261.3,261.35,261.4,261.45,261.5,261.55,261.6,261.65,261.7,261.75,261.8],
  "labelExpr": "abs(datum.value*5 - round(datum.value*5)) < 0.001 ? replace(format(datum.value, '.1f'), '.', ',') : ''",
  "grid": true,
  "gridColor": {"condition": {"test": "abs(datum.value*5 - round(datum.value*5)) < 0.001", "value": "#d9d9d9"}, "value": "#f2f2f2"},
  "gridWidth": {"condition": {"test": "abs(datum.value*5 - round(datum.value*5)) < 0.001", "value": 1.3}, "value": 1},
  "ticks": false, "tickSize": 0, "domain": true, "domainColor": "#bfbfbf", "domainWidth": 1.5,
  "labelFont": "Lato", "labelFontSize": 20, "labelColor": "#595959", "labelPadding": 20, "labelOverlap": false,
  "titleFont": "Lato", "titleFontSize": 22, "titleFontWeight": "normal", "titleColor": "#595959", "titlePadding": 10}},
"color": {"field": "r", "type": "nominal",
 "scale": {"domain": ["WUE-ku-1D - B2", "WUE-ku-1W - B2", "WUE-ku-1D - S0", "WUE-ku-1W - S0"], "range": ["#4472C4", "#70AD47", "#4472C4", "#70AD47"]},
 "legend": {"title": null, "orient": "none", "legendX": 269, "legendY": 861, "direction": "horizontal", "symbolType": "stroke", "symbolSize": 3844, "symbolStrokeWidth": 3, "labelFont": "Lato", "labelFontSize": 20, "labelColor": "#595959", "labelOffset": 6, "columnPadding": 30, "labelLimit": 400}},
"strokeDash": {"field": "r", "type": "nominal",
 "scale": {"domain": ["WUE-ku-1D - B2", "WUE-ku-1W - B2", "WUE-ku-1D - S0", "WUE-ku-1W - S0"], "range": [[1, 0], [1, 0], [9, 4], [9, 4]]},
 "legend": {"title": null, "orient": "none", "legendX": 269, "legendY": 861, "direction": "horizontal", "symbolType": "stroke", "symbolSize": 3844, "symbolStrokeWidth": 3, "labelFont": "Lato", "labelFontSize": 20, "labelColor": "#595959", "labelOffset": 6, "columnPadding": 30, "labelLimit": 400}}
},
"config": {"view": {"stroke": null}}
}
